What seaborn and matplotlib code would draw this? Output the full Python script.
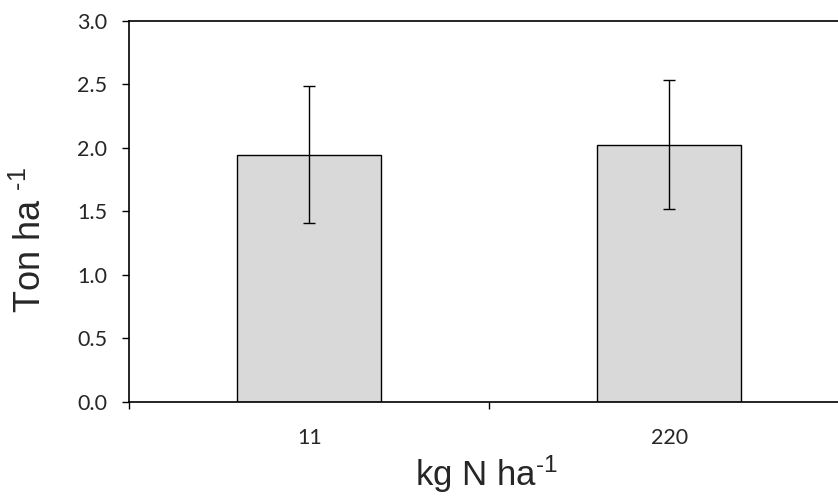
import matplotlib
matplotlib.use("Agg")
import matplotlib.pyplot as plt
import seaborn as sns
import pandas as pd

# values
rates   = ["11", "220"]          # kg N ha-1
yield_t = [1.945, 2.025]         # Ton ha-1
err     = [0.54, 0.505]

df = pd.DataFrame({"rate": rates, "yield": yield_t})

sns.set_theme(style="white")
plt.rcParams["font.family"] = ["Lato", "DejaVu Sans"]
plt.rcParams["mathtext.fontset"] = "custom"
plt.rcParams["mathtext.rm"] = "Liberation Sans"
plt.rcParams["mathtext.default"] = "regular"

fig = plt.figure(figsize=(8.38, 4.96), dpi=100)
ax = fig.add_axes([129.3 / 838, 94.3 / 496, 720 / 838, 381 / 496])

sns.barplot(data=df, x="rate", y="yield", color="#D9D9D9", edgecolor="black",
            linewidth=1.0, width=0.4, saturation=1, errorbar=None, ax=ax)
ax.errorbar(x=range(len(rates)), y=yield_t, yerr=err, fmt="none",
            ecolor="black", elinewidth=1.0, capsize=4, capthick=1.0)

ax.set_xlim(-0.5, 1.5)
ax.set_ylim(0, 3.0)
ax.set_yticks([0, 0.5, 1.0, 1.5, 2.0, 2.5, 3.0])
ax.set_yticklabels([f"{v:.1f}" for v in ax.get_yticks()])

# category boundaries get the ticks, labels sit in the middle
ax.set_xticks([-0.5, 0.5, 1.5], minor=True)
ax.tick_params(axis="x", which="major", length=0, pad=19, labelsize=15.5)
ax.tick_params(axis="x", which="minor", length=5, width=1.0, direction="out",
               bottom=True, color="black")
ax.tick_params(axis="y", which="major", length=5, width=1.0, direction="out",
               left=True, pad=11, labelsize=15.5, color="black")

for s in ["left", "bottom", "top"]:
    ax.spines[s].set_color("black")
    ax.spines[s].set_linewidth(1.2)
ax.spines["right"].set_visible(False)

ax.set_ylabel(r"Ton ha $^{\text{-}1}$", fontsize=26, family="Liberation Sans",
              va="center", ha="center")
ax.yaxis.set_label_coords(-0.1365, 0.424)
ax.set_xlabel(r"kg N ha$^{\text{-}1}$", fontsize=25, family="Liberation Sans",
              va="center", ha="center")
ax.xaxis.set_label_coords(0.4954, -0.19)

fig.savefig("out.png", dpi=100)
